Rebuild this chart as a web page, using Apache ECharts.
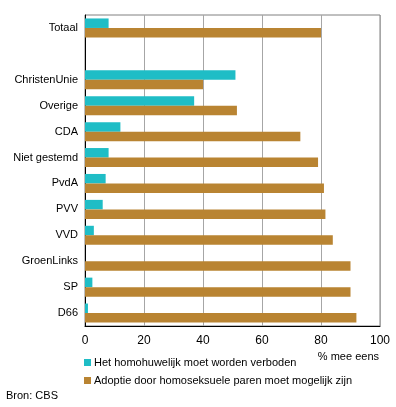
<!DOCTYPE html>
<html><head><meta charset="utf-8">
<script src="https://cdn.jsdelivr.net/npm/echarts@6/dist/echarts.min.js"></script>
<style>html,body{margin:0;padding:0;background:#fff}#c{width:396px;height:407px}</style>
</head><body><div id="c"></div>
<script>
const categories = ['Totaal', '', 'ChristenUnie', 'Overige', 'CDA', 'Niet gestemd', 'PvdA', 'PVV', 'VVD', 'GroenLinks', 'SP', 'D66'];
const seriesNames = ['Het homohuwelijk moet worden verboden', 'Adoptie door homoseksuele paren moet mogelijk zijn'];
const verboden = [8, null, 51, 37, 12, 8, 7, 6, 3, 0, 2.5, 1];
const adoptie = [80, null, 40, 51.5, 73, 79, 81, 81.5, 84, 90, 90, 92];
const xTicks = [0, 20, 40, 60, 80, 100];
const unitLabel = '% mee eens';
const sourceLabel = 'Bron: CBS';

const font = 'Liberation Sans, Arial, sans-serif';
const fs = 11;
const chart = echarts.init(document.getElementById('c'));
chart.setOption({
  animation: false,
  textStyle: { fontFamily: font },
  grid: { left: 85, right: 16, top: 15, height: 311, show: true, borderColor: '#808080', borderWidth: 1 },
  xAxis: {
    type: 'value', min: xTicks[0], max: xTicks[xTicks.length - 1], interval: 20,
    axisLine: { show: true, lineStyle: { color: '#000' } },
    axisTick: { show: false },
    splitLine: { show: true, lineStyle: { color: '#a6a6a6' } },
    axisLabel: { color: '#000', fontSize: fs + 1, margin: 9, fontFamily: font }
  },
  yAxis: {
    type: 'category', data: categories, inverse: true,
    axisLine: { show: true, lineStyle: { color: '#000' } },
    axisTick: { show: false },
    axisLabel: { color: '#000', fontSize: fs, margin: 7, fontFamily: font }
  },
  legend: {
    orient: 'vertical', left: 79, top: 351, itemWidth: 7, itemHeight: 7, itemGap: 5,
    icon: 'rect', itemStyle: { borderWidth: 0 },
    textStyle: { color: '#000', fontSize: fs, fontFamily: font, lineHeight: 13, padding: [0, 0, 0, -2] },
    data: seriesNames
  },
  series: [
    { name: seriesNames[0], type: 'bar', data: verboden, barWidth: 9.5, barGap: '0%', itemStyle: { color: '#1fbdc6' } },
    { name: seriesNames[1], type: 'bar', data: adoptie, barWidth: 9.5, barGap: '0%', itemStyle: { color: '#b98432' } }
  ],
  graphic: [
    { type: 'text', right: 17, top: 351, style: { text: unitLabel, font: fs + 'px ' + font, fill: '#000' } },
    { type: 'text', left: 6, top: 390, style: { text: sourceLabel, font: fs + 'px ' + font, fill: '#000' } }
  ]
});
</script></body></html>
